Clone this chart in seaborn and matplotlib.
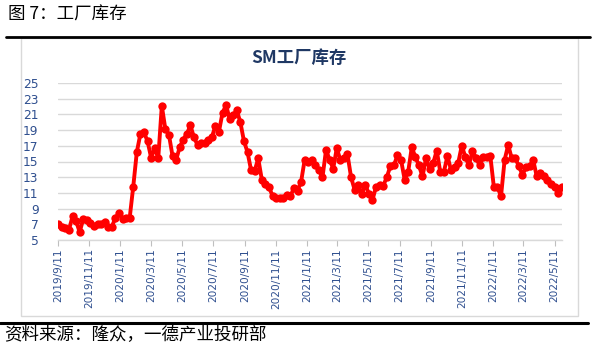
import matplotlib
matplotlib.use("Agg")
import matplotlib.pyplot as plt
import matplotlib.dates as mdates
from matplotlib.lines import Line2D
from matplotlib.patches import Rectangle
import pandas as pd
import seaborn as sns

# Weekly SM factory inventory (10k tonnes), first reading on 2019-09-11
start_date = "2019-09-11"
inventory = [
    7.1, 6.6, 6.5, 6.3, 8.0, 7.4, 6.0, 7.7, 7.6, 7.2, 6.8, 7.0, 7.0, 7.3, 6.6, 6.7,
    7.8, 8.4, 7.7, 7.8, 7.8,
    11.8, 16.2, 18.5, 18.7, 17.6, 15.5, 16.7, 15.4, 22.1, 19.1, 18.4, 15.7, 15.2,
    16.8, 17.8, 18.5, 19.6, 18.1, 17.1, 17.3, 17.4, 17.7, 18.1, 19.5, 18.8, 21.2,
    22.2, 20.4, 20.9, 21.5, 20.0, 17.6, 16.2, 13.9, 13.8, 15.4, 12.7, 12.1, 11.8,
    10.6, 10.3, 10.3, 10.3, 10.7, 10.6, 11.6, 11.3, 12.4, 15.2, 15.0, 15.2, 14.5,
    13.9,
    13.0, 16.5, 15.2, 14.1, 16.7, 15.2, 15.4, 15.9, 13.0, 11.4, 12.0, 10.9, 12.0,
    10.9, 10.1, 11.8, 12.0, 11.9, 13.0, 14.4, 14.5, 15.8, 15.2, 12.7, 13.7, 16.8,
    15.6, 14.5, 13.1, 15.4, 14.1, 14.8, 16.4, 13.6, 13.7, 15.7, 13.9, 14.3, 14.8,
    17.0, 15.6, 14.5, 16.3, 15.5, 14.5, 15.6, 15.6, 15.7, 11.7, 11.7, 10.6, 15.2,
    17.1, 15.4, 15.4, 14.4, 13.3, 14.3, 14.4, 15.2, 13.1, 13.5, 13.1, 12.7, 12.1,
    11.8, 11.0, 11.8,
]
x_tick_labels = [
    "2019/9/11", "2019/11/11", "2020/1/11", "2020/3/11", "2020/5/11",
    "2020/7/11", "2020/9/11", "2020/11/11", "2021/1/11", "2021/3/11",
    "2021/5/11", "2021/7/11", "2021/9/11", "2021/11/11", "2022/1/11",
    "2022/3/11", "2022/5/11",
]
y_ticks = [5, 7, 9, 11, 13, 15, 17, 19, 21, 23, 25]

dates = pd.date_range(start_date, periods=len(inventory), freq="7D")
df = pd.DataFrame({"date": dates, "inventory": inventory})

sns.set_theme(style="white")
plt.rcParams["font.family"] = ["DejaVu Sans", "Noto Sans CJK SC"]
cjk = ["Noto Sans CJK SC", "DejaVu Sans"]

fig = plt.figure(figsize=(5.95, 3.5), dpi=100)
W, H = 595, 350

# page furniture: caption, rules, chart frame, source line
fig.text(8 / W, 1 - 15 / H, "图 7：工厂库存", family=cjk, fontsize=12.6,
         color="#000000", va="center", ha="left")
fig.add_artist(Line2D([6 / W, 590 / W], [1 - 37 / H, 1 - 37 / H],
                      color="#000000", lw=2.0, transform=fig.transFigure))
fig.add_artist(Rectangle((20.5 / W, 1 - 316 / H), (578 - 20.5) / W, (316 - 38) / H,
                         fill=False, edgecolor="#D9D9D9", lw=1.0,
                         transform=fig.transFigure))
fig.add_artist(Line2D([0 / W, 588 / W], [1 - 323 / H, 1 - 323 / H],
                      color="#000000", lw=2.2, transform=fig.transFigure))
fig.text(4 / W, 1 - 335 / H, "资料来源：隆众，一德产业投研部", family=cjk,
         fontsize=12.6, color="#000000", va="center", ha="left")
fig.text(299 / W, 1 - 58 / H, "SM工厂库存", family=cjk, fontsize=12.5,
         fontweight="bold", color="#1F3864", va="center", ha="center")

ax = fig.add_axes([58 / W, 1 - 240 / H, (562 - 58) / W, (240 - 83) / H])
sns.lineplot(data=df, x="date", y="inventory", ax=ax, color="#FF0000",
             lw=2.8, marker="o", markersize=6, markeredgewidth=0,
             markeredgecolor="#FF0000", zorder=3)

ax.set_ylim(5, 25)
ax.set_yticks(y_ticks)
ax.set_yticklabels([str(v) for v in y_ticks])
tick_dates = pd.to_datetime(x_tick_labels, format="%Y/%m/%d")
ax.set_xticks(mdates.date2num(tick_dates))
ax.set_xticklabels(x_tick_labels, rotation=90)
ax.set_xlim(mdates.date2num(dates[0]) - 0.5, mdates.date2num(dates[-1]) + 0.5)

ax.set_xlabel("")
ax.set_ylabel("")
ax.grid(axis="y", color="#D9D9D9", lw=1.0)
ax.grid(axis="x", visible=False)
ax.set_axisbelow(True)
for side in ["left", "right", "top"]:
    ax.spines[side].set_visible(False)
ax.spines["bottom"].set_color("#D9D9D9")
ax.spines["bottom"].set_linewidth(1.0)
ax.tick_params(axis="x", which="major", length=4, width=0.8, color="#BFBFBF",
               direction="out", labelsize=7.6, labelcolor="#2F4F8F", pad=2,
               bottom=True)
ax.tick_params(axis="y", length=0, labelsize=8.8, labelcolor="#2F4F8F", pad=14)

fig.savefig("out.png", dpi=100)
